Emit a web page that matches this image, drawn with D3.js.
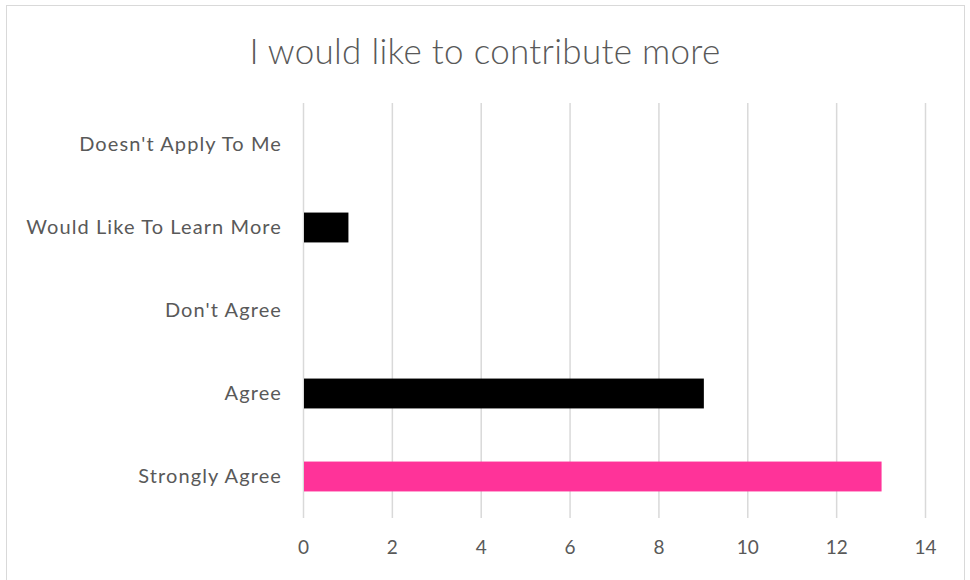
<!DOCTYPE html>
<html>
<head>
<meta charset="utf-8">
<script src="https://cdn.jsdelivr.net/npm/d3@7"></script>
<style>
  body { margin: 0; background: #fff; }
  text { font-family: Lato, "Open Sans", sans-serif; fill: #595959; }
</style>
</head>
<body>
<div id="chart"></div>
<script>
const categories = ["Doesn't Apply To Me", "Would Like To Learn More", "Don't Agree", "Agree", "Strongly Agree"];
const values = [0, 1, 0, 9, 13];
const barColors = ["#000000", "#000000", "#000000", "#000000", "#FF3399"];
const xTicks = [0, 2, 4, 6, 8, 10, 12, 14];
const title = "I would like to contribute more";

const W = 970, H = 580;
const margin = {top: 103, right: 45, bottom: 62, left: 303};
const width = W - margin.left - margin.right,
      height = H - margin.top - margin.bottom;

const svg = d3.select("#chart")
              .append("svg")
              .attr("width", W)
              .attr("height", H);

// chart frame
svg.append("rect")
   .attr("x", 6.5).attr("y", 5.5)
   .attr("width", 958).attr("height", 580)
   .attr("fill", "none")
   .attr("stroke", "#d9d9d9");

svg.append("text")
   .attr("x", W / 2)
   .attr("y", 64)
   .attr("text-anchor", "middle")
   .style("font-size", "35px")
   .style("font-weight", 300)
   .style("letter-spacing", "0.3px")
   .text(title);

const g = svg.append("g")
             .attr("transform", `translate(${margin.left},${margin.top})`);

const x = d3.scaleLinear()
            .domain([0, 14])
            .range([0, width]);

const y = d3.scaleBand()
            .domain(categories)
            .range([0, height])
            .paddingInner(0.64)
            .paddingOuter(0.32);

// gridlines
g.selectAll(".grid")
 .data(xTicks)
 .enter()
 .append("line")
 .attr("x1", d => x(d) + 0.5)
 .attr("x2", d => x(d) + 0.5)
 .attr("y1", 0)
 .attr("y2", height)
 .attr("stroke", "#d9d9d9")
 .attr("stroke-width", 1.5);

g.selectAll(".bar")
 .data(values)
 .enter()
 .append("rect")
 .attr("x", x(0) + 1)
 .attr("y", (d, i) => y(categories[i]))
 .attr("width", d => d > 0 ? x(d) - x(0) : 0)
 .attr("height", y.bandwidth())
 .attr("fill", (d, i) => barColors[i]);

// category axis
const yAxis = g.append("g")
               .call(d3.axisLeft(y).tickSize(0).tickPadding(21));
yAxis.select(".domain").remove();
yAxis.selectAll("text")
     .style("font-size", "20px")
     .style("letter-spacing", "1.1px")
     .attr("fill", "#595959");

// value axis
const xAxis = g.append("g")
               .attr("transform", `translate(0,${height})`)
               .call(d3.axisBottom(x).tickValues(xTicks).tickSize(0).tickPadding(23));
xAxis.select(".domain").remove();
xAxis.selectAll("text")
     .style("font-size", "19px")
     .attr("fill", "#595959");
</script>
</body>
</html>
